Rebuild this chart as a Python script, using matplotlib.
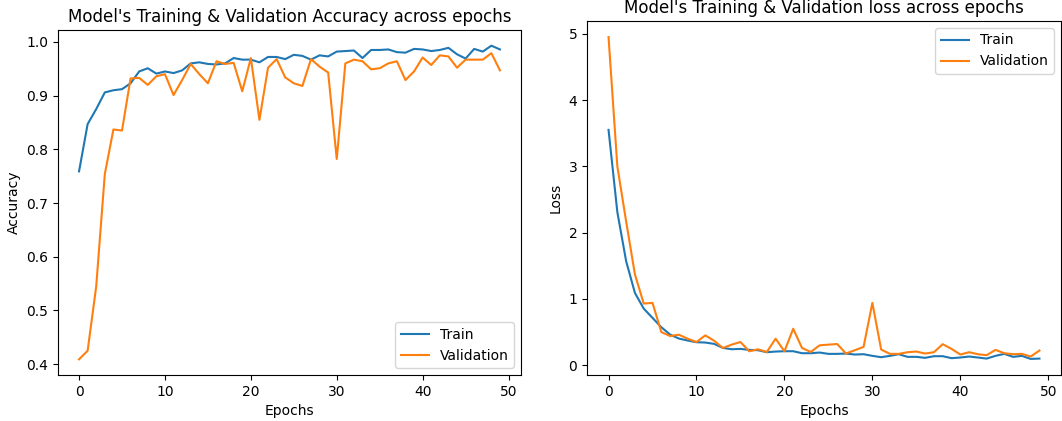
import matplotlib
matplotlib.use("Agg")
import matplotlib.pyplot as plt
import numpy as np

epochs = list(range(50))

train_acc = [0.759, 0.847, 0.875, 0.906, 0.910, 0.912, 0.923, 0.945, 0.951, 0.941,
             0.945, 0.942, 0.947, 0.960, 0.962, 0.959, 0.958, 0.960, 0.970, 0.967,
             0.967, 0.962, 0.972, 0.972, 0.968, 0.976, 0.974, 0.967, 0.975, 0.973,
             0.982, 0.983, 0.984, 0.970, 0.985, 0.985, 0.986, 0.981, 0.980, 0.987,
             0.986, 0.983, 0.985, 0.989, 0.977, 0.969, 0.987, 0.982, 0.993, 0.986]

val_acc = [0.409, 0.425, 0.545, 0.754, 0.837, 0.835, 0.932, 0.933, 0.920, 0.936,
           0.940, 0.901, 0.929, 0.959, 0.940, 0.923, 0.964, 0.959, 0.961, 0.908,
           0.970, 0.855, 0.952, 0.968, 0.934, 0.923, 0.918, 0.968, 0.954, 0.943,
           0.782, 0.960, 0.967, 0.964, 0.949, 0.951, 0.960, 0.964, 0.929, 0.945,
           0.971, 0.957, 0.975, 0.973, 0.952, 0.967, 0.967, 0.967, 0.979, 0.947]

train_loss = [3.55, 2.31, 1.57, 1.09, 0.854, 0.714, 0.573, 0.462, 0.402, 0.372,
              0.347, 0.342, 0.322, 0.261, 0.241, 0.246, 0.231, 0.226, 0.196, 0.206,
              0.211, 0.211, 0.181, 0.181, 0.191, 0.171, 0.171, 0.176, 0.161, 0.166,
              0.141, 0.121, 0.141, 0.166, 0.126, 0.126, 0.111, 0.136, 0.136, 0.106,
              0.116, 0.131, 0.116, 0.100, 0.141, 0.171, 0.126, 0.141, 0.095, 0.100]

val_loss = [4.95, 3.00, 2.17, 1.37, 0.93, 0.94, 0.50, 0.44, 0.46, 0.40,
            0.35, 0.45, 0.37, 0.26, 0.31, 0.35, 0.21, 0.24, 0.20, 0.40,
            0.21, 0.55, 0.26, 0.20, 0.30, 0.31, 0.32, 0.176, 0.226, 0.276,
            0.94, 0.236, 0.171, 0.171, 0.196, 0.206, 0.176, 0.196, 0.317, 0.246,
            0.161, 0.196, 0.166, 0.151, 0.231, 0.181, 0.166, 0.171, 0.131, 0.221]

fig = plt.figure(figsize=(10.62, 4.21), dpi=100)

ax1 = fig.add_axes([58 / 1062, 46 / 421, 463 / 1062, 345 / 421])
ax1.plot(epochs, train_acc, label="Train")
ax1.plot(epochs, val_acc, label="Validation")
ax1.set_title("Model's Training & Validation Accuracy across epochs")
ax1.set_xlabel("Epochs")
ax1.set_ylabel("Accuracy")
ax1.legend(loc="lower right")

ax2 = fig.add_axes([587 / 1062, 46 / 421, 474 / 1062, 354 / 421])
ax2.plot(epochs, train_loss, label="Train")
ax2.plot(epochs, val_loss, label="Validation")
ax2.set_title("Model's Training & Validation loss across epochs")
ax2.set_xlabel("Epochs")
ax2.set_ylabel("Loss")
ax2.legend(loc="upper right")

fig.savefig("out.png", dpi=100)
